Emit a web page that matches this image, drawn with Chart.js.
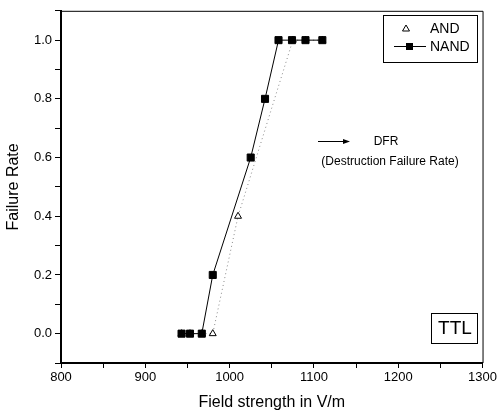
<!DOCTYPE html>
<html><head><meta charset="utf-8">
<script src="https://cdn.jsdelivr.net/npm/chart.js@4/dist/chart.umd.min.js"></script>
<style>html,body{margin:0;padding:0;background:#fff}#w{width:499px;height:416px}</style>
</head><body><div id="w"><canvas id="c" width="499" height="416"></canvas></div>
<script>
const nandX = [943, 953, 967, 980, 1025, 1042, 1058, 1074, 1090, 1110];
const nandY = [0, 0, 0, 0.2, 0.6, 0.8, 1, 1, 1, 1];
const andX = [943, 953, 967, 980, 1010, 1075, 1090, 1110];
const andY = [0, 0, 0, 0, 0.4, 1, 1, 1];
const xLabels = [800, 900, 1000, 1100, 1200, 1300];
const yLabels = [0.0, 0.2, 0.4, 0.6, 0.8, 1.0];
const seriesNames = ['AND', 'NAND'];

const pts = (xs, ys) => xs.map((x, i) => ({x, y: ys[i]}));
const F = 'Arial, "Liberation Sans", sans-serif';

const decor = {
  id: 'decor',
  afterDraw(chart) {
    const {ctx, chartArea: a} = chart;
    ctx.save();
    ctx.strokeStyle = '#000'; ctx.lineWidth = 1;
    ctx.beginPath();
    ctx.moveTo(a.left, a.top + 0.5); ctx.lineTo(a.right + 0.5, a.top + 0.5); ctx.lineTo(a.right + 0.5, a.bottom);
    ctx.stroke();
    // legend box
    const lx = 383, ly = 15, lw = 94, lh = 47;
    ctx.strokeRect(lx + 0.5, ly + 0.5, lw, lh);
    ctx.font = '14px ' + F; ctx.fillStyle = '#000'; ctx.textBaseline = 'middle'; ctx.textAlign = 'left';
    ctx.beginPath();
    ctx.moveTo(406, 25); ctx.lineTo(409.5, 31); ctx.lineTo(402.5, 31); ctx.closePath();
    ctx.lineWidth = 1; ctx.stroke();
    ctx.fillText(seriesNames[0], 430, 29);
    ctx.beginPath(); ctx.moveTo(394, 46.5); ctx.lineTo(426, 46.5); ctx.stroke();
    ctx.fillRect(406, 43, 7, 7);
    ctx.fillText(seriesNames[1], 430, 47);
    // DFR arrow
    ctx.beginPath(); ctx.moveTo(318, 141.5); ctx.lineTo(346, 141.5); ctx.stroke();
    ctx.beginPath(); ctx.moveTo(350, 141.5); ctx.lineTo(343, 139); ctx.lineTo(343, 144); ctx.closePath(); ctx.fill();
    ctx.textAlign = 'center';
    ctx.font = '12px ' + F;
    ctx.fillText('DFR', 386, 142);
    ctx.fillText('(Destruction Failure Rate)', 390, 162);
    // TTL box
    ctx.strokeRect(431.5, 313.5, 46, 30);
    ctx.font = '19px ' + F;
    ctx.fillText('TTL', 455, 329);
    ctx.restore();
  }
};

new Chart(document.getElementById('c'), {
  type: 'scatter',
  data: {
    datasets: [
      {label: seriesNames[1], data: pts(nandX, nandY), showLine: true, borderColor: '#000', borderWidth: 1,
       pointStyle: 'rect', pointRadius: 5, pointBorderColor: '#000', pointBackgroundColor: '#000'},
      {label: seriesNames[0], data: pts(andX, andY), showLine: true, borderColor: '#888', borderWidth: 1,
       borderDash: [1, 3], pointStyle: 'triangle', pointRadius: 4, pointBorderColor: '#000',
       pointBackgroundColor: '#fff', pointBorderWidth: 1}
    ]
  },
  options: {
    responsive: false, animation: false, devicePixelRatio: 1,
    layout: {padding: {left: 0, top: 8, right: 14, bottom: 0}},
    plugins: {legend: {display: false}, tooltip: {enabled: false}},
    scales: {
      x: {
        type: 'linear', min: 800, max: 1300,
        afterFit(s) { s.height = 53; },
        border: {color: '#000', width: 2},
        grid: {drawOnChartArea: false, color: '#000', tickLength: 5, tickWidth: 1},
        ticks: {stepSize: 50, color: '#000', font: {size: 13, family: F}, padding: 2,
          callback: v => xLabels.includes(v) ? String(v) : ''},
        title: {display: true, text: 'Field strength in V/m', color: '#000', font: {size: 16, family: F}, padding: {top: 5}}
      },
      y: {
        type: 'linear', min: -0.1, max: 1.1,
        afterFit(s) { s.width = 61; },
        border: {color: '#000', width: 2},
        grid: {drawOnChartArea: false, color: '#000', tickLength: 6, tickWidth: 1},
        ticks: {stepSize: 0.1, color: '#000', font: {size: 13, family: F}, padding: 3,
          callback: v => {
            const r = Math.round(v * 10) / 10;
            return yLabels.some(l => Math.abs(l - r) < 1e-9) ? r.toFixed(1) : '';
          }},
        title: {display: true, text: 'Failure Rate', color: '#000', font: {size: 16, family: F}, padding: {bottom: 4}}
      }
    }
  },
  plugins: [decor]
});
</script></body></html>
